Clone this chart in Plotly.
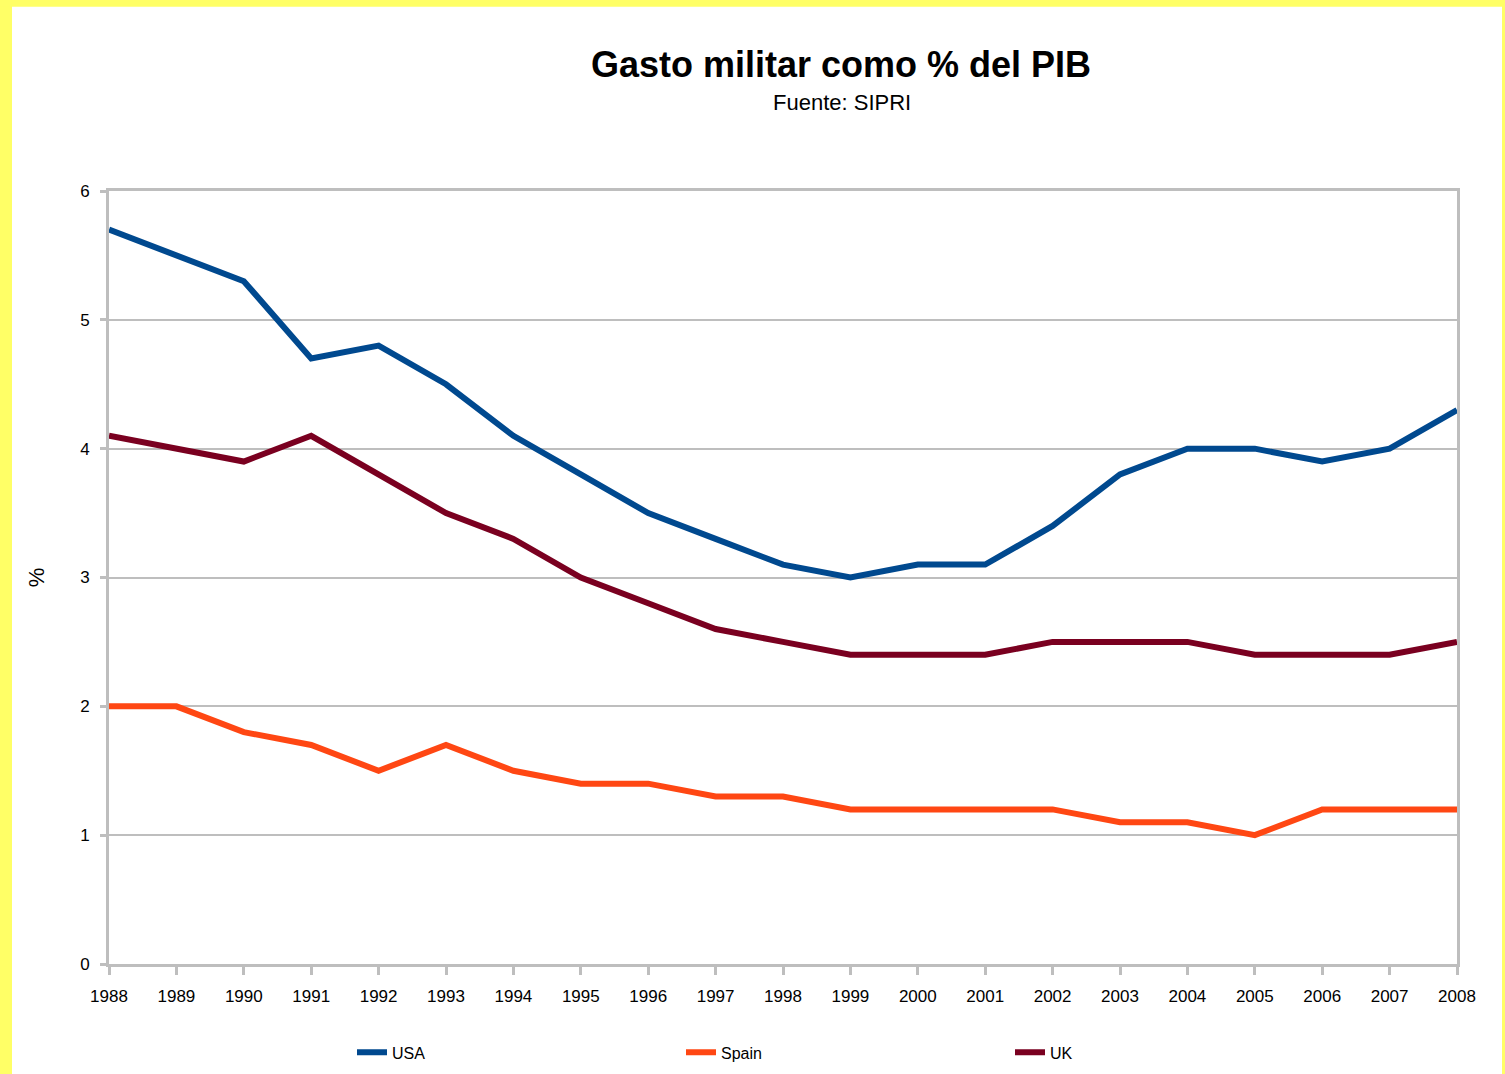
import plotly.graph_objects as go

years = list(range(1988, 2009))
usa = [5.7, 5.5, 5.3, 4.7, 4.8, 4.5, 4.1, 3.8, 3.5, 3.3, 3.1, 3.0, 3.1, 3.1, 3.4, 3.8, 4.0, 4.0, 3.9, 4.0, 4.3]
spain = [2.0, 2.0, 1.8, 1.7, 1.5, 1.7, 1.5, 1.4, 1.4, 1.3, 1.3, 1.2, 1.2, 1.2, 1.2, 1.1, 1.1, 1.0, 1.2, 1.2, 1.2]
uk = [4.1, 4.0, 3.9, 4.1, 3.8, 3.5, 3.3, 3.0, 2.8, 2.6, 2.5, 2.4, 2.4, 2.4, 2.5, 2.5, 2.5, 2.4, 2.4, 2.4, 2.5]

W, H = 1505, 1082
K = H / 1074.0  # vertical compensation
L, R = 109, 1457
T, B = round(190 * K), round(960 * K)
pw, ph = R - L, B - T

def px(x):
    return (x - L) / pw

def py(y):
    return (B - y * K) / ph

FONT = "Liberation Sans, Arial, sans-serif"
GRID = "#BEBEBE"

fig = go.Figure()
for name, vals, col in [("USA", usa, "#00498F"), ("Spain", spain, "#FF4713"), ("UK", uk, "#7A0020")]:
    fig.add_trace(go.Scatter(x=years, y=vals, name=name, mode="lines",
                             line=dict(color=col, width=6)))

shapes = [
    dict(type="rect", xref="paper", yref="paper", x0=px(-5), x1=px(12), y0=py(1090), y1=py(-5),
         fillcolor="#FFFF66", line_width=0, layer="below"),
    dict(type="rect", xref="paper", yref="paper", x0=px(-5), x1=px(W + 5), y0=py(6), y1=py(-5),
         fillcolor="#FFFF66", line_width=0, layer="below"),
    dict(type="rect", xref="paper", yref="paper", x0=px(1502), x1=px(W + 5), y0=py(1090), y1=py(-5),
         fillcolor="#FFFF66", line_width=0, layer="below"),
]

annotations = [
    dict(text="<b>Gasto militar como % del PIB</b>", xref="paper", yref="paper",
         x=px(841), y=py(64), xanchor="center", yanchor="middle", showarrow=False,
         font=dict(family=FONT, size=36, color="black")),
    dict(text="Fuente: SIPRI", xref="paper", yref="paper",
         x=px(842), y=py(101), xanchor="center", yanchor="middle", showarrow=False,
         font=dict(family=FONT, size=22, color="black")),
]

fig.update_layout(
    width=W, height=H,
    margin=dict(l=L, r=W - R, t=T, b=H - B),
    paper_bgcolor="white", plot_bgcolor="white",
    font=dict(family=FONT, color="black"),
    shapes=shapes, annotations=annotations,
    showlegend=True,
    legend=dict(orientation="h", x=px(352), y=py(1048), xanchor="left", yanchor="middle",
                entrywidth=284, entrywidthmode="pixels",
                font=dict(family=FONT, size=16, color="black"), bgcolor="rgba(0,0,0,0)"),
    xaxis=dict(range=[1988, 2008], tickmode="array", tickvals=years, ticktext=[str(y) for y in years],
               showgrid=False, showline=True, linecolor=GRID, linewidth=3, mirror=True,
               ticks="outside", ticklen=8, tickwidth=3, tickcolor=GRID, ticklabelstandoff=7,
               tickfont=dict(family=FONT, size=17, color="black"), zeroline=False),
    yaxis=dict(range=[0, 6], dtick=1, showgrid=True, gridcolor=GRID, gridwidth=2,
               showline=True, linecolor=GRID, linewidth=3, mirror=True,
               ticks="outside", ticklen=6, tickwidth=3, tickcolor=GRID, ticklabelstandoff=7,
               tickfont=dict(family=FONT, size=17, color="black"), zeroline=False,
               title=dict(text="%", font=dict(family=FONT, size=22, color="black"), standoff=30)),
)

post = (
    "document.documentElement.style.margin='0';"
    "document.body.style.margin='0';"
    "var d=document.getElementById('{plot_id}'); d.style.display='block';"
)
fig.write_html("out.html", post_script=post, config={"displayModeBar": False})
